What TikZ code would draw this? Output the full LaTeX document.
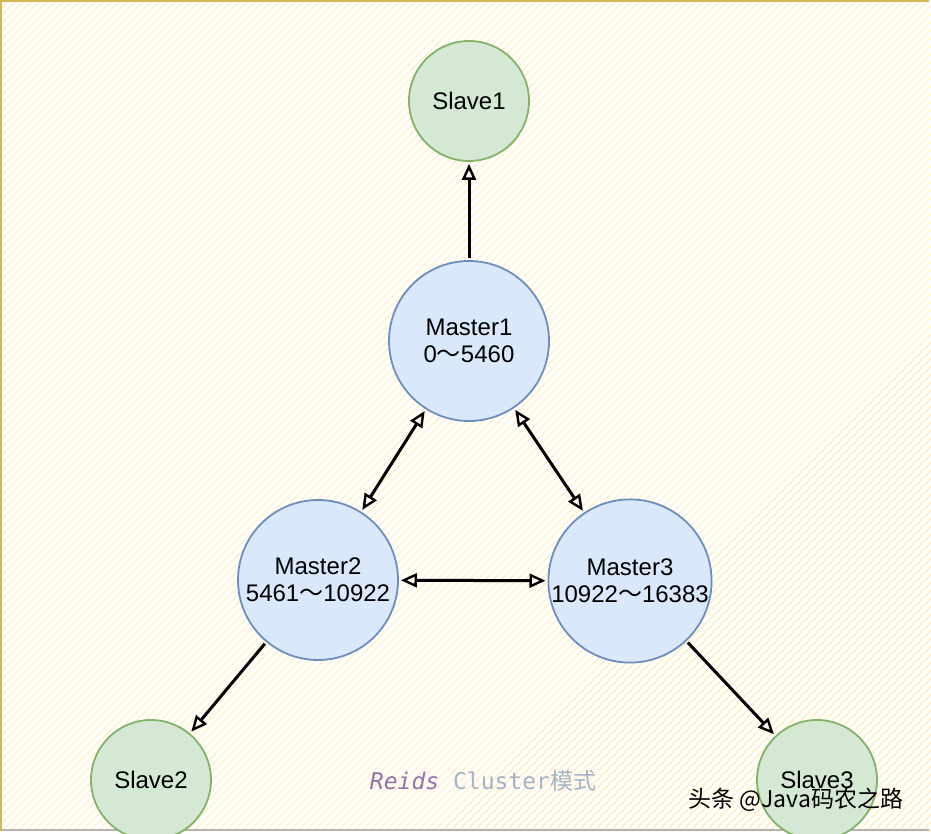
\documentclass[tikz,border=0pt]{standalone}
\usepackage{fontspec}
\setmainfont{Liberation Sans}
\newfontfamily\cjk{Noto Sans CJK SC}
\newfontfamily\codefont{DejaVu Sans Mono}
\usetikzlibrary{arrows.meta}
\definecolor{slavefill}{HTML}{D5E8D4}
\definecolor{slavedraw}{HTML}{82B366}
\definecolor{masterfill}{HTML}{DAE8FC}
\definecolor{masterdraw}{HTML}{6C8EBF}
\definecolor{hatch}{HTML}{FFEFC0}
\definecolor{frame}{HTML}{D6B656}
\definecolor{redispurple}{HTML}{9673A6}
\definecolor{clustergray}{HTML}{A6B3C4}
\begin{document}
\begin{tikzpicture}[x=1pt, y=1pt, shorten >=2pt, shorten <=2pt,
  link/.style={line width=3pt,-{Triangle[open,length=16pt,width=14pt,line width=2.4pt]}},
  both link/.style={line width=3pt,{Triangle[open,length=16pt,width=14pt,line width=2.4pt]}-{Triangle[open,length=16pt,width=14pt,line width=2.4pt]}},
  master node/.style={circle,draw=masterdraw,fill=masterfill,line width=1.8pt,minimum size=160pt,inner sep=0pt,align=center},
  slave node/.style={circle,draw=slavedraw,fill=slavefill,line width=1.8pt,minimum size=120pt,inner sep=0pt,align=center}]
\useasboundingbox (0,0) rectangle (931,833);
% background
\begin{scope}
\clip (0,0) rectangle (931,833);
\fill[white] (0,0) rectangle (931,833);
\foreach \i in {-840,-832,...,931}
  \draw[hatch,line width=1.4pt] (\i,0) -- ++(840,840);
\end{scope}
\draw[frame,line width=2.5pt] (1,0) -- (1,832) -- (931,832);
\draw[gray!60,line width=1.5pt] (0,3) -- (931,3);
\begin{scope}[every node/.style={font=\fontsize{24}{27}\selectfont}]
\node [slave node](s1) at (469,732) {Slave1};
\node [master node](m1) at (469,492) {Master1\\0{\cjk ～}5460};
\node [master node](m2) at (318,253) {Master2\\5461{\cjk ～}10922};
\node [master node](m3) at (630,252) {Master3\\10922{\cjk ～}16383};
\node [slave node](s2) at (151,53) {Slave2};
\node [slave node](s3) at (817,53) {Slave3};
\end{scope}
\path
    (m1) edge[link] (s1)
    (m1) edge[both link] (m2)
    (m1) edge[both link] (m3)
    (m2) edge[both link] (m3)
    (m2) edge[link] (s2)
    (m3) edge[link] (s3)
         ;
\node (caption) at (483,52) {\fontsize{23}{26}\selectfont\codefont{\color{redispurple}\itshape Reids} {\color{clustergray}Cluster{\cjk 模式}}};
\node (mark) at (796,33) {\fontsize{23}{26}\selectfont\cjk 头条 @Java码农之路};
\end{tikzpicture}
\end{document}
